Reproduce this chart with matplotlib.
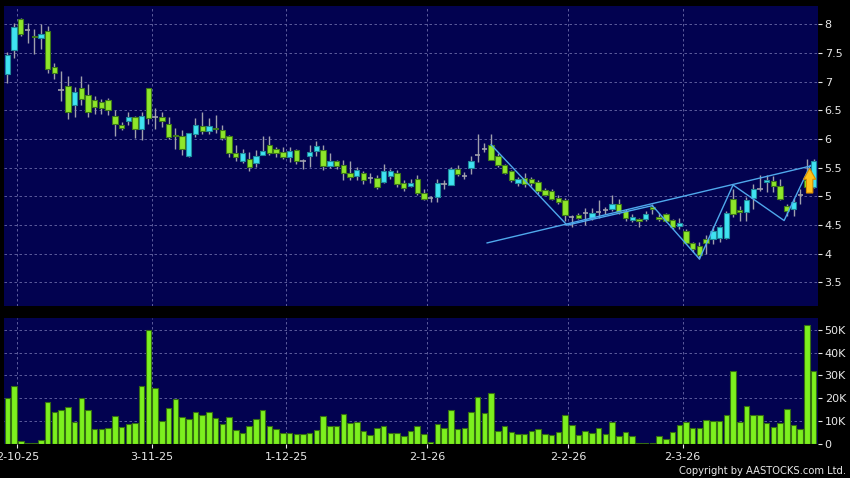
import numpy as np
import matplotlib
matplotlib.use("Agg")
import matplotlib.pyplot as plt
from matplotlib.patches import FancyArrow

# daily candles (oldest -> newest)
opens = [7.14, 7.56, 8.09, 7.90, 7.80, 7.77, 7.89, 7.25, 6.85, 6.93,
         6.59, 6.89, 6.77, 6.69, 6.65, 6.69, 6.41, 6.25, 6.31, 6.38,
         6.17, 6.89, 6.38, 6.39, 6.27, 6.08, 6.05, 5.71, 6.09, 6.23,
         6.14, 6.20, 6.16, 6.06, 5.76, 5.62, 5.66, 5.58, 5.73, 5.89,
         5.82, 5.77, 5.69, 5.81, 5.62, 5.71, 5.79, 5.81, 5.53, 5.61,
         5.55, 5.41, 5.36, 5.41, 5.32, 5.32, 5.26, 5.35, 5.41, 5.23,
         5.19, 5.31, 5.06, 4.98, 4.99, 5.22, 5.20, 5.48, 5.35, 5.50,
         5.72, 5.82, 5.90, 5.71, 5.54, 5.44, 5.24, 5.32, 5.30, 5.25,
         5.11, 5.09, 4.97, 4.94, 4.64, 4.67, 4.71, 4.63, 4.73, 4.77,
         4.78, 4.86, 4.75, 4.59, 4.60, 4.61, 4.82, 4.65, 4.69, 4.59,
         4.49, 4.40, 4.19, 4.13, 4.26, 4.26, 4.28, 4.28, 4.96, 4.77,
         4.73, 4.98, 5.13, 5.26, 5.27, 5.19, 4.84, 4.78, 5.02, 5.28,
         5.17]
highs = [7.51, 8.03, 8.11, 8.02, 7.92, 8.00, 7.97, 7.33, 7.18, 7.10,
         6.90, 7.10, 6.96, 6.75, 6.70, 6.71, 6.50, 6.30, 6.48, 6.40,
         6.47, 6.89, 6.54, 6.48, 6.38, 6.20, 6.15, 6.11, 6.37, 6.48,
         6.36, 6.42, 6.24, 6.08, 5.89, 5.83, 5.77, 5.81, 6.05, 6.05,
         5.86, 5.87, 5.87, 5.83, 5.66, 5.89, 5.96, 5.89, 5.75, 5.64,
         5.64, 5.62, 5.51, 5.45, 5.41, 5.37, 5.56, 5.48, 5.46, 5.29,
         5.31, 5.37, 5.13, 5.01, 5.31, 5.29, 5.51, 5.54, 5.42, 5.70,
         6.09, 5.93, 6.09, 5.75, 5.57, 5.46, 5.34, 5.41, 5.34, 5.28,
         5.15, 5.13, 5.02, 4.98, 4.67, 4.71, 4.80, 4.80, 4.93, 4.81,
         5.03, 4.96, 4.78, 4.70, 4.62, 4.75, 4.86, 4.71, 4.72, 4.61,
         4.62, 4.43, 4.21, 4.20, 4.32, 4.49, 4.49, 4.75, 5.13, 4.84,
         4.99, 5.22, 5.38, 5.38, 5.35, 5.31, 4.87, 4.98, 5.13, 5.66,
         5.66]
lows = [6.97, 7.42, 7.80, 7.68, 7.49, 7.57, 7.15, 7.04, 6.66, 6.35,
        6.38, 6.60, 6.38, 6.44, 6.44, 6.42, 6.05, 6.16, 6.24, 6.02,
        5.99, 6.26, 6.17, 6.21, 6.00, 5.83, 5.73, 5.69, 6.03, 6.09,
        6.09, 6.11, 5.99, 5.69, 5.62, 5.58, 5.44, 5.51, 5.72, 5.73,
        5.69, 5.66, 5.60, 5.57, 5.48, 5.52, 5.70, 5.46, 5.50, 5.47,
        5.29, 5.29, 5.29, 5.21, 5.23, 5.13, 5.23, 5.31, 5.17, 5.10,
        5.16, 5.03, 4.93, 4.91, 4.90, 5.13, 5.20, 5.36, 5.31, 5.40,
        5.60, 5.77, 5.63, 5.51, 5.39, 5.25, 5.19, 5.17, 5.19, 5.05,
        5.02, 4.93, 4.86, 4.58, 4.46, 4.61, 4.51, 4.59, 4.63, 4.70,
        4.75, 4.70, 4.58, 4.55, 4.46, 4.58, 4.69, 4.58, 4.56, 4.43,
        4.44, 4.17, 4.04, 3.91, 3.99, 4.17, 4.20, 4.26, 4.64, 4.58,
        4.58, 4.78, 5.10, 5.07, 5.07, 4.93, 4.66, 4.66, 4.87, 5.15,
        5.15]
closes = [7.46, 7.95, 7.84, 7.90, 7.78, 7.84, 7.23, 7.16, 6.85, 6.48,
          6.82, 6.70, 6.48, 6.56, 6.55, 6.50, 6.26, 6.20, 6.38, 6.18,
          6.41, 6.36, 6.38, 6.32, 6.03, 6.05, 5.83, 6.10, 6.25, 6.14,
          6.23, 6.17, 6.02, 5.76, 5.69, 5.76, 5.51, 5.70, 5.79, 5.76,
          5.76, 5.69, 5.79, 5.62, 5.62, 5.78, 5.88, 5.53, 5.61, 5.53,
          5.41, 5.34, 5.46, 5.29, 5.32, 5.17, 5.44, 5.44, 5.22, 5.14,
          5.24, 5.06, 4.96, 4.98, 5.24, 5.22, 5.47, 5.39, 5.35, 5.61,
          5.72, 5.82, 5.64, 5.55, 5.41, 5.29, 5.31, 5.22, 5.24, 5.10,
          5.03, 4.96, 4.90, 4.68, 4.64, 4.63, 4.71, 4.71, 4.73, 4.77,
          4.87, 4.73, 4.63, 4.64, 4.57, 4.69, 4.78, 4.61, 4.58, 4.47,
          4.54, 4.19, 4.08, 3.98, 4.19, 4.40, 4.46, 4.71, 4.70, 4.73,
          4.93, 5.13, 5.13, 5.29, 5.19, 4.96, 4.75, 4.91, 5.02, 5.17,
          5.61]
# volume in thousands
volumes = [19.9, 25.3, 1.3, 0.4, 0.4, 1.8, 18.1, 13.8, 15.0, 16.0,
           9.6, 20.1, 14.9, 6.3, 6.3, 7.1, 12.1, 7.5, 8.5, 9.0,
           25.4, 49.9, 24.6, 9.9, 15.6, 19.6, 11.9, 11.0, 14.1, 12.8,
           13.8, 11.5, 8.5, 11.8, 5.9, 4.7, 7.6, 10.9, 14.7, 7.6,
           6.6, 4.6, 4.9, 4.1, 4.1, 4.7, 6.2, 12.2, 7.9, 7.8,
           13.2, 9.0, 9.4, 5.4, 3.7, 6.9, 7.9, 4.9, 4.9, 3.5,
           5.6, 7.8, 4.4, 0.6, 8.7, 6.9, 14.6, 6.5, 6.8, 13.8,
           20.7, 13.4, 22.2, 5.4, 7.9, 5.0, 4.3, 4.3, 5.4, 6.6,
           4.3, 3.8, 5.3, 12.5, 8.2, 3.7, 5.4, 4.7, 6.8, 4.1,
           9.4, 3.5, 5.0, 3.5, 0.4, 0.4, 0.4, 3.2, 2.2, 5.1,
           8.1, 9.4, 6.8, 6.9, 10.3, 9.9, 9.9, 12.5, 31.8, 9.4,
           16.6, 12.5, 12.4, 9.0, 7.2, 9.3, 15.4, 8.4, 6.3, 52.2,
           31.9]

date_labels = ["2-10-25", "3-11-25", "1-12-25", "2-1-26", "2-2-26", "2-3-26"]
date_index = [2, 22, 42, 63, 84, 101]   # first session of each month

price_ticks = [3.5, 4, 4.5, 5, 5.5, 6, 6.5, 7, 7.5, 8]
vol_ticks = [0, 10, 20, 30, 40, 50]
vol_labels = ["0", "10K", "20K", "30K", "40K", "50K"]

# drawn trend lines (candle index, price)
trend_line = [(71.4, 4.19), (119.5, 5.53)]
zigzag = [(72, 5.90), (83.3, 4.50), (96, 4.84), (103, 3.91),
          (108, 5.20), (115.6, 4.58), (119.5, 5.54)]

BG = "#020250"
GRID = "#6a6aa8"
UP, UP_EDGE = "#3fe3f2", "#1f8a9a"
DN, DN_EDGE = "#8ee62a", "#3f7a1a"
WICK = "#a0a0ac"
TXT = "#e8e8e8"

o = np.array(opens); h = np.array(highs); l = np.array(lows); c = np.array(closes)
v = np.array(volumes)
x = np.arange(len(o))

fig = plt.figure(figsize=(8.5, 4.78), dpi=100, facecolor="black")
ax = fig.add_axes([0.0047, 0.3598, 0.9573, 0.6276])
axv = fig.add_axes([0.0047, 0.0718, 0.9573, 0.2623])

for a in (ax, axv):
    a.set_facecolor(BG)
    for s in a.spines.values():
        s.set_visible(False)
    a.yaxis.tick_right()
    a.tick_params(axis="y", colors=TXT, labelcolor=TXT, labelsize=8,
                  length=3, width=0.8, pad=2)
    a.set_xlim(-0.5, 120.6)
    for d in date_index:
        a.axvline(d - 0.5, color=GRID, lw=0.6, ls=(0, (3, 3)), zorder=0)

# price panel
ax.set_ylim(3.09, 8.32)
ax.set_yticks(price_ticks)
ax.set_yticklabels([f"{t:g}" for t in price_ticks])
for t in price_ticks:
    ax.axhline(t, color=GRID, lw=0.6, ls=(0, (3, 3)), zorder=0)
ax.set_xticks([])

ax.vlines(x, l, h, color=WICK, lw=1, zorder=2)
up = c > o
dn = c < o
flat = c == o
ax.bar(x[up], (c - o)[up], bottom=o[up], width=0.8, color=UP,
       edgecolor=UP_EDGE, lw=0.8, zorder=3)
ax.bar(x[dn], (o - c)[dn], bottom=c[dn], width=0.8, color=DN,
       edgecolor=DN_EDGE, lw=0.8, zorder=3)
ax.hlines(c[flat], x[flat] - 0.4, x[flat] + 0.4, color=WICK, lw=1.2, zorder=3)

tx, ty = zip(*trend_line)
ax.plot(tx, ty, color="#4fa8ec", lw=1, zorder=4)
zx, zy = zip(*zigzag)
ax.plot(zx, zy, color="#4fa8ec", lw=1, zorder=4)

# breakout arrow under the last candle's close
last = len(c) - 1
ax.add_patch(FancyArrow(last - 0.6, c[last] - 0.55, 0, 0.43, width=0.95,
                        head_width=1.8, head_length=0.19,
                        length_includes_head=True, facecolor="#ffc21a",
                        edgecolor="#d88a00", lw=0.8, zorder=5))

# volume panel
axv.set_ylim(0, 55.1)
axv.set_yticks(vol_ticks)
axv.set_yticklabels(vol_labels)
for t in vol_ticks[1:]:
    axv.axhline(t, color=GRID, lw=0.6, ls=(0, (3, 3)), zorder=0)
axv.bar(x, v, width=0.82, color="#7cf01e", edgecolor="#356e12", lw=0.8, zorder=3)
axv.set_xticks([d - 0.5 for d in date_index])
axv.set_xticklabels(date_labels)
axv.tick_params(axis="x", colors=TXT, labelcolor=TXT, labelsize=8,
                length=3, width=0.8, pad=3)

fig.text(0.995, 0.0146, "Copyright by AASTOCKS.com Ltd.", color=TXT,
         fontsize=7.2, ha="right", va="center")

fig.savefig("out.png", dpi=100, facecolor="black")
